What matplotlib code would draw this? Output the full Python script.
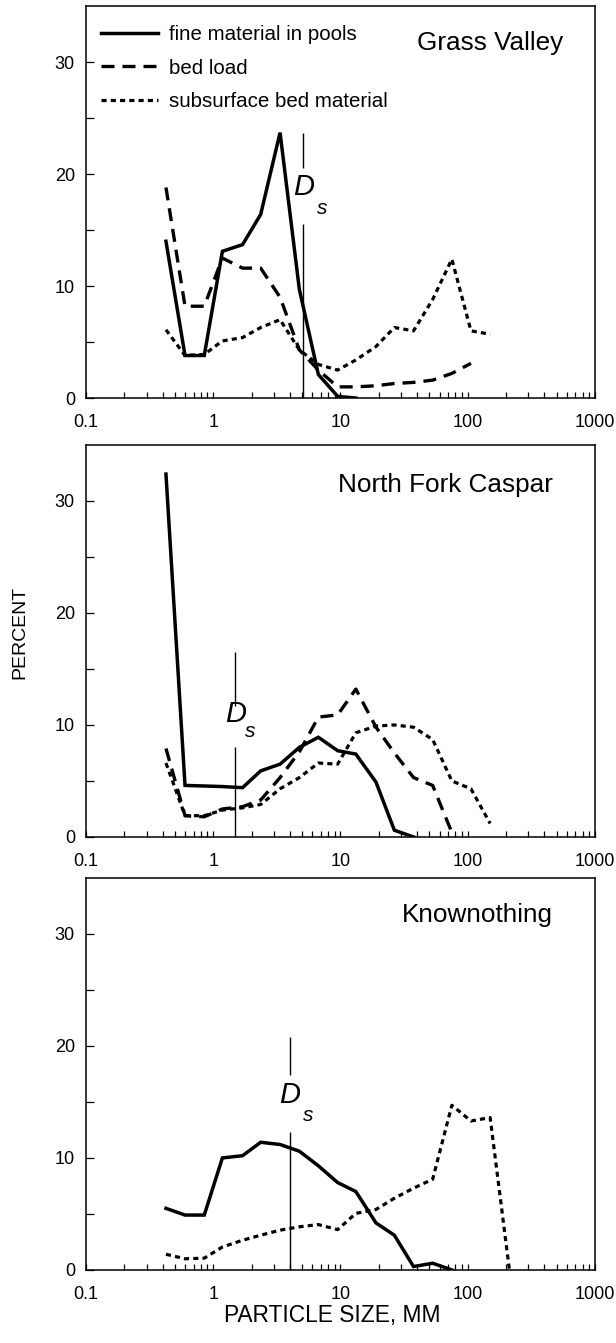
import matplotlib
matplotlib.use('Agg')
import matplotlib.pyplot as plt
from matplotlib.ticker import LogLocator, NullFormatter, FixedLocator, FixedFormatter

plt.rcParams['font.family'] = ['Liberation Sans', 'DejaVu Sans']

# ---------------- data ----------------
sizes = [0.425, 0.6, 0.85, 1.18, 1.7, 2.36, 3.35, 4.75, 6.7, 9.5, 13.2,
         19.0, 26.5, 37.5, 53.0, 75.0, 106.0, 150.0, 212.0]

panel_names = ['Grass Valley', 'North Fork Caspar', 'Knownothing']
series_labels = ['fine material in pools', 'bed load', 'subsurface bed material']

gv_pools = [14.0, 3.8, 3.8, 13.1, 13.7, 16.4, 23.7, 9.7, 2.1, 0.15, 0.0]
gv_bedload = [18.8, 8.2, 8.2, 12.5, 11.6, 11.6, 9.0, 4.3, 2.5, 1.0, 1.0,
              1.1, 1.3, 1.4, 1.6, 2.2, 3.1]
gv_subsurface = [6.1, 3.8, 3.9, 5.1, 5.4, 6.3, 7.0, 4.3, 3.0, 2.5, 3.4,
                 4.6, 6.3, 6.0, 8.8, 12.4, 6.0, 5.7]

nf_pools = [32.4, 4.6, 4.55, 4.5, 4.4, 5.9, 6.5, 8.0, 8.9, 7.7, 7.4,
            4.9, 0.6, 0.0]
nf_bedload = [7.9, 1.9, 1.8, 2.5, 2.7, 3.3, 5.3, 7.6, 10.7, 10.9, 13.2,
              9.8, 7.5, 5.3, 4.6, 0.4]
nf_subsurface = [6.6, 1.9, 1.9, 2.4, 2.6, 2.9, 4.3, 5.3, 6.6, 6.5, 9.3,
                 9.9, 10.0, 9.8, 8.7, 5.0, 4.3, 1.2]

kn_pools = [5.5, 4.9, 4.9, 10.0, 10.2, 11.4, 11.2, 10.6, 9.3, 7.8, 7.0,
            4.2, 3.1, 0.3, 0.6, 0.0]
kn_bedload = []
kn_subsurface = [1.4, 1.0, 1.05, 2.05, 2.65, 3.1, 3.55, 3.85, 4.05, 3.6, 5.05,
                 5.4, 6.4, 7.3, 8.1, 14.7, 13.3, 13.6, 0.1]

# D_s (mm) for each stream
ds_values = [5.1, 1.49, 4.0]

x_tick_values = [0.1, 1, 10, 100, 1000]
x_tick_labels = ['0.1', '1', '10', '100', '1000']
y_tick_values = [0, 10, 20, 30]
y_minor_values = [5, 15, 25]

# ---------------- layout ----------------
fig = plt.figure(figsize=(6.16, 13.43), dpi=100)
L, W, H = 0.1396, 0.8263, 0.2919
bottoms = [0.7036, 0.3768, 0.0544]

styles = {
    'pools': dict(color='black', lw=2.5, ls='-'),
    'bed': dict(color='black', lw=2.4, ls=(0, (3.9, 2.4))),
    'sub': dict(color='black', lw=2.3, ls=(0, (1.6, 1.3))),
}

panels = [
    (gv_pools, gv_bedload, gv_subsurface),
    (nf_pools, nf_bedload, nf_subsurface),
    (kn_pools, kn_bedload, kn_subsurface),
]

# D_s annotation geometry (y in data units)
ds_geom = [
    dict(low=15.5, up=(20.5, 23.7), dy=18.8, sx=1.42, sy=16.9),
    dict(low=8.0, up=(11.7, 16.5), dy=11.0, sx=1.31, sy=9.4),
    dict(low=12.3, up=(17.4, 20.8), dy=15.6, sx=1.40, sy=13.8),
]
title_pos = [(0.938, 0.905), (0.917, 0.897), (0.917, 0.906)]

for i, (pools, bed, sub) in enumerate(panels):
    ax = fig.add_axes([L, bottoms[i], W, H])
    ax.set_xscale('log')
    ax.set_xlim(0.1, 1000)
    ax.set_ylim(0, 35)

    h1, = ax.plot(sizes[:len(pools)], pools, label=series_labels[0],
                  solid_joinstyle='miter', **styles['pools'])
    handles = [h1]
    if bed:
        h2, = ax.plot(sizes[:len(bed)], bed, label=series_labels[1], **styles['bed'])
        handles.append(h2)
    h3, = ax.plot(sizes[:len(sub)], sub, label=series_labels[2], **styles['sub'])
    handles.append(h3)

    # D_s marker
    g = ds_geom[i]
    ds = ds_values[i]
    ax.vlines(ds, 0, g['low'], color='black', lw=1.0)
    ax.vlines(ds, g['up'][0], g['up'][1], color='black', lw=1.0)
    ax.text(ds, g['dy'], 'D', style='italic', fontsize=21, ha='center', va='center')
    ax.text(ds * g['sx'], g['sy'], 's', style='italic', fontsize=15, ha='center', va='center')

    ax.text(title_pos[i][0], title_pos[i][1], panel_names[i], transform=ax.transAxes,
            ha='right', va='center', fontsize=18.8)

    if i == 0:
        ax.legend(handles=handles, loc='upper left', bbox_to_anchor=(0.03, 0.952),
                  frameon=False, fontsize=14.8, handlelength=2.75, handletextpad=0.55,
                  labelspacing=0.72, borderpad=0, borderaxespad=0)

    ax.xaxis.set_major_locator(FixedLocator(x_tick_values))
    ax.xaxis.set_major_formatter(FixedFormatter(x_tick_labels))
    ax.xaxis.set_minor_locator(LogLocator(base=10, subs=range(2, 10)))
    ax.xaxis.set_minor_formatter(NullFormatter())
    ax.set_yticks(y_tick_values)
    ax.set_yticks(y_minor_values, minor=True)

    ax.tick_params(which='both', direction='in', top=False, right=False)
    ax.tick_params(axis='x', which='both', length=4, width=0.9, pad=11.5, labelsize=13)
    ax.tick_params(axis='y', which='both', length=5.5, width=0.9, pad=8, labelsize=13)
    for sp in ax.spines.values():
        sp.set_linewidth(1.1)

fig.text(0.033, 0.529, 'PERCENT', rotation=90, ha='center', va='center', fontsize=14)
fig.text(0.539, 0.0205, 'PARTICLE SIZE, MM', ha='center', va='center', fontsize=16.4)

fig.savefig('out.png', dpi=100)
